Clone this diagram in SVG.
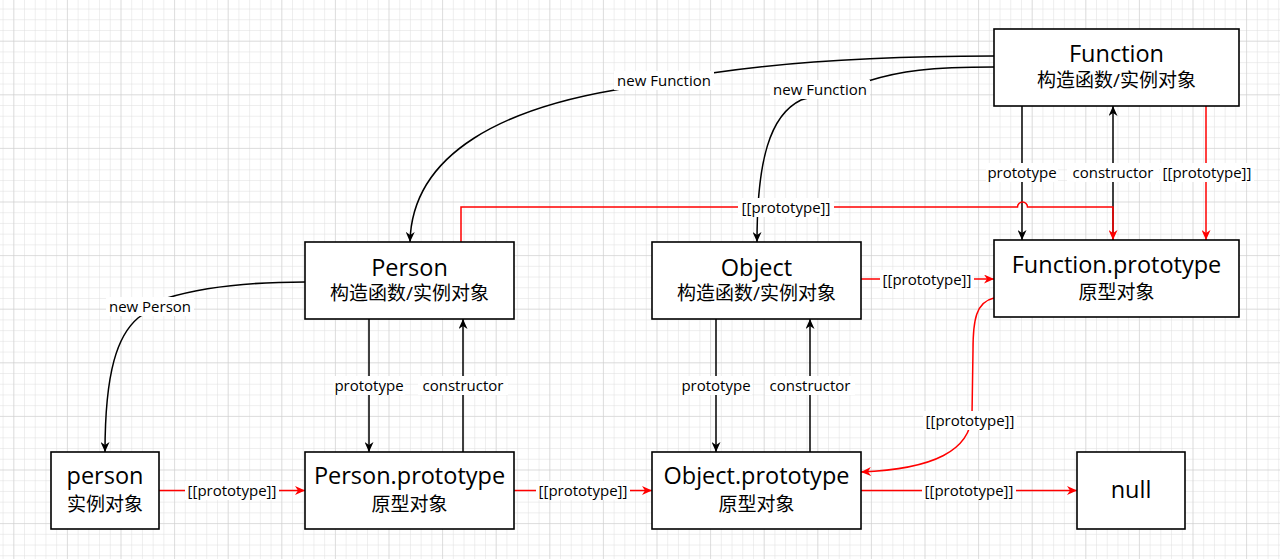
<svg xmlns="http://www.w3.org/2000/svg" width="1280" height="559" viewBox="0 0 1280 559">
<style>
.box{fill:#ffffff;stroke:#000000;stroke-width:1.6}
.t{font-family:"Open Sans","Noto Sans",sans-serif;font-size:23.5px;fill:#000;text-anchor:middle}
.s{font-family:"Open Sans","Noto Sans CJK SC",sans-serif;font-size:19px;fill:#000;text-anchor:middle}
.l{font-family:"Open Sans","Noto Sans",sans-serif;font-size:15px;fill:#000;text-anchor:middle}
.lb{fill:#ffffff}
.k{fill:none;stroke:#000;stroke-width:1.5;marker-end:url(#ak)}
.r{fill:none;stroke:#ff0000;stroke-width:1.5;marker-end:url(#ar)}
</style>
<defs>
<pattern id="gmin" patternUnits="userSpaceOnUse" x="13.3" y="40.7" width="10.72" height="10.72">
<path d="M0,0 V10.72 M0,0 H10.72" fill="none" stroke="#dedede" stroke-width="1"/>
</pattern>
<pattern id="gmaj" patternUnits="userSpaceOnUse" x="13.3" y="40.7" width="53.6" height="53.6">
<path d="M0,0 V53.6 M0,0 H53.6" fill="none" stroke="#cdcdcd" stroke-width="1"/>
</pattern>
<marker id="ak" markerUnits="userSpaceOnUse" markerWidth="10" markerHeight="9" refX="10" refY="4.5" orient="auto">
<path d="M0,0 L10,4.5 L0,9 L3,4.5 Z" fill="#000"/>
</marker>
<marker id="ar" markerUnits="userSpaceOnUse" markerWidth="10" markerHeight="9" refX="10" refY="4.5" orient="auto">
<path d="M0,0 L10,4.5 L0,9 L3,4.5 Z" fill="#ff0000"/>
</marker>
</defs>
<rect x="0" y="0" width="1280" height="559" fill="#ffffff"/>
<rect x="0" y="0" width="1280" height="559" fill="url(#gmin)"/>
<rect x="0" y="0" width="1280" height="559" fill="url(#gmaj)"/>

<g id="connectors">
<path class="k" d="M994,56 C900,56 800,60 712,73 L615,90 C510,108 412,150 410,242"/>
<path class="k" d="M994,67 C930,67 900,71 868,81 L801,100 C770,115 757,160 757,242"/>
<path class="k" d="M305,282 C250,282 200,288 167,298 L138,318 C118,335 105,370 105,452"/>
<path class="k" d="M1022,106 L1022,240"/>
<path class="k" d="M1113,240 L1113,106"/>
<path class="r" d="M1206,106 L1206,240"/>
<path class="r" d="M461,242 L461,207 L1017.5,207 A5,5 0 0 1 1027.5,207 L1113,207 L1113,240"/>
<path class="k" d="M369,319 L369,452"/>
<path class="k" d="M463,452 L463,319"/>
<path class="k" d="M716,319 L716,452"/>
<path class="k" d="M810,452 L810,319"/>
<path class="r" d="M159,490.5 L305,490.5"/>
<path class="r" d="M514,490.5 L652,490.5"/>
<path class="r" d="M861,490.5 L1077,490.5"/>
<path class="r" d="M861,279 L994,279"/>
<path class="r" d="M994,298 C976,302 973,320 973,350 L972,415 C970,450 935,469 861,472"/>

<rect class="lb" x="614" y="71" width="100" height="19"/>
<text class="l" x="664" y="85.5">new Function</text>
<rect class="lb" x="770" y="80" width="100" height="19"/>
<text class="l" x="820" y="94.5">new Function</text>
<rect class="lb" x="738" y="198" width="96" height="19"/>
<text class="l" x="786" y="212.5">[[prototype]]</text>
<rect class="lb" x="986" y="163" width="72" height="19"/>
<text class="l" x="1022" y="177.5">prototype</text>
<rect class="lb" x="1067" y="163" width="92" height="19"/>
<text class="l" x="1113" y="177.5">constructor</text>
<rect class="lb" x="1160" y="163" width="94" height="19"/>
<text class="l" x="1207" y="177.5">[[prototype]]</text>
<rect class="lb" x="106" y="297" width="88" height="19"/>
<text class="l" x="150" y="311.5">new Person</text>
<rect class="lb" x="333" y="376" width="72" height="19"/>
<text class="l" x="369" y="390.5">prototype</text>
<rect class="lb" x="418" y="376" width="90" height="19"/>
<text class="l" x="463" y="390.5">constructor</text>
<rect class="lb" x="680" y="376" width="72" height="19"/>
<text class="l" x="716" y="390.5">prototype</text>
<rect class="lb" x="765" y="376" width="90" height="19"/>
<text class="l" x="810" y="390.5">constructor</text>
<rect class="lb" x="185" y="481" width="94" height="19"/>
<text class="l" x="232" y="495.5">[[prototype]]</text>
<rect class="lb" x="536" y="481" width="94" height="19"/>
<text class="l" x="583" y="495.5">[[prototype]]</text>
<rect class="lb" x="922" y="481" width="94" height="19"/>
<text class="l" x="969" y="495.5">[[prototype]]</text>
<rect class="lb" x="880" y="270" width="94" height="19"/>
<text class="l" x="927" y="284.5">[[prototype]]</text>
<rect class="lb" x="923" y="411" width="94" height="19"/>
<text class="l" x="970" y="425.5">[[prototype]]</text>
</g>

<g id="node-function">
<rect class="box" x="994" y="29" width="245" height="77"/>
<text class="t" x="1116.5" y="62">Function</text>
<text class="s" x="1116.5" y="87">构造函数/实例对象</text>
</g>
<g id="node-function-prototype">
<rect class="box" x="994" y="240" width="245" height="77"/>
<text class="t" x="1116.5" y="273">Function.prototype</text>
<text class="s" x="1116.5" y="299">原型对象</text>
</g>
<g id="node-person-ctor">
<rect class="box" x="305" y="242" width="209" height="77"/>
<text class="t" x="409.5" y="276">Person</text>
<text class="s" x="409.5" y="300">构造函数/实例对象</text>
</g>
<g id="node-object">
<rect class="box" x="652" y="242" width="209" height="77"/>
<text class="t" x="756.5" y="276">Object</text>
<text class="s" x="756.5" y="300">构造函数/实例对象</text>
</g>
<g id="node-person">
<rect class="box" x="51" y="452" width="108" height="77"/>
<text class="t" x="105" y="484">person</text>
<text class="s" x="105" y="511">实例对象</text>
</g>
<g id="node-person-prototype">
<rect class="box" x="305" y="452" width="209" height="77"/>
<text class="t" x="409.5" y="484">Person.prototype</text>
<text class="s" x="409.5" y="511">原型对象</text>
</g>
<g id="node-object-prototype">
<rect class="box" x="652" y="452" width="209" height="77"/>
<text class="t" x="756.5" y="484">Object.prototype</text>
<text class="s" x="756.5" y="511">原型对象</text>
</g>
<g id="node-null">
<rect class="box" x="1077" y="452" width="108" height="77"/>
<text class="t" x="1131" y="498">null</text>
</g>
</svg>
